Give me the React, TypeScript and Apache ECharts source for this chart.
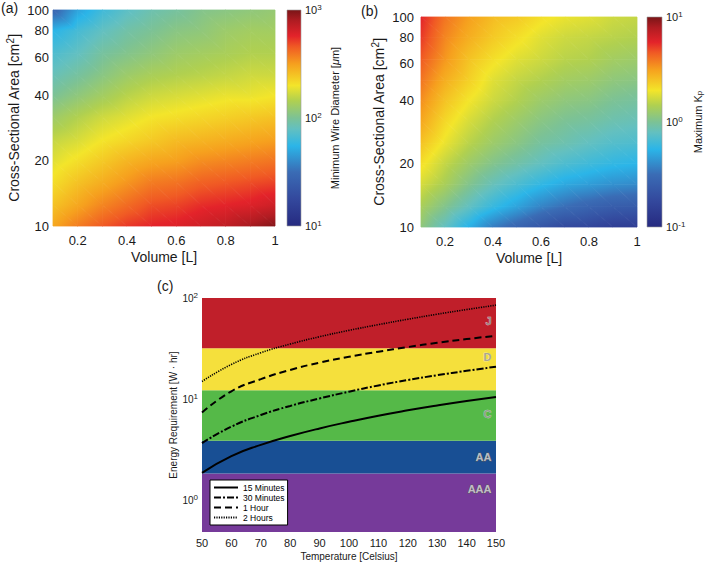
import React, { useEffect, useRef } from 'react';
import * as echarts from 'echarts';

// ---------------- data ----------------
const volumeL = [0.1, 0.2, 0.3, 0.4, 0.5, 0.6, 0.7, 0.8, 0.9, 1.0];
const areaCm2 = [100, 80, 63, 50, 40, 32, 25, 20, 16, 12.5, 10];
const volumeTicks = [0.2, 0.4, 0.6, 0.8, 1];
const areaTicks = [10, 20, 40, 60, 80, 100];

// (a) minimum wire diameter [um], rows follow areaCm2, columns follow volumeL
const wireDiameterUm = [
  [28, 48, 63, 76, 87, 95, 105, 110, 115, 120],
  [55, 66, 79, 91, 100, 110, 115, 126, 132, 132],
  [69, 79, 95, 105, 115, 126, 132, 138, 145, 145],
  [83, 95, 110, 126, 138, 145, 151, 158, 166, 166],
  [100, 115, 132, 151, 166, 174, 182, 191, 191, 200],
  [126, 145, 166, 182, 200, 209, 219, 229, 240, 251],
  [158, 174, 200, 219, 240, 263, 275, 288, 302, 316],
  [182, 209, 240, 275, 302, 316, 347, 363, 380, 398],
  [209, 251, 288, 331, 380, 398, 437, 457, 479, 501],
  [251, 302, 363, 417, 479, 501, 550, 575, 603, 661],
  [302, 380, 457, 525, 575, 603, 661, 724, 832, 955],
];
const wireRange = [10, 1000];
const wireTicks = [10, 100, 1000];

// (b) maximum Kp
const maxKp = [
  [5.75, 3.98, 3.16, 2.63, 2.4, 2.09, 1.91, 1.82, 1.66, 1.59],
  [5.25, 3.63, 2.88, 2.4, 2.09, 1.82, 1.66, 1.59, 1.51, 1.45],
  [4.57, 3.31, 2.51, 2.09, 1.82, 1.66, 1.51, 1.45, 1.32, 1.26],
  [3.98, 2.88, 2.29, 1.82, 1.59, 1.45, 1.32, 1.26, 1.15, 1.1],
  [3.47, 2.51, 2.0, 1.66, 1.45, 1.26, 1.15, 1.1, 1.0, 0.95],
  [3.02, 2.19, 1.74, 1.45, 1.26, 1.1, 1.0, 0.95, 0.87, 0.83],
  [2.51, 1.91, 1.51, 1.26, 1.1, 0.95, 0.87, 0.79, 0.72, 0.69],
  [2.09, 1.59, 1.26, 1.05, 0.91, 0.79, 0.69, 0.63, 0.58, 0.55],
  [1.74, 1.38, 1.05, 0.83, 0.69, 0.58, 0.5, 0.46, 0.42, 0.4],
  [1.38, 1.05, 0.79, 0.6, 0.48, 0.38, 0.32, 0.28, 0.25, 0.24],
  [1.15, 0.79, 0.53, 0.36, 0.28, 0.22, 0.18, 0.17, 0.15, 0.145],
];
const kpRange = [0.1, 10];
const kpTicks = [0.1, 1, 10];

// (c) energy requirement [W hr]
const temperatureC = [50, 60, 70, 80, 90, 100, 110, 120, 130, 140, 150];
const energy15min = [1.88, 2.75, 3.55, 4.34, 5.16, 6.0, 6.89, 7.78, 8.69, 9.62, 10.54];
const energy30min = [3.7, 5.37, 7.0, 8.6, 10.2, 11.9, 13.7, 15.5, 17.3, 19.1, 21];
const energy1h = [7.4, 12.0, 15.8, 19.5, 23, 26.3, 29.5, 32.8, 36.1, 39.3, 42.4];
const energy2h = [15, 22.1, 28.8, 35.1, 41.5, 47.9, 54.6, 61.7, 69.2, 76.9, 85];
const seriesNames = ['15 Minutes', '30 Minutes', '1 Hour', '2 Hours'];
const energyRange = [0.49, 100];
const energyTicks = [1, 10, 100];
const energyMinorTicks = [0.5, 0.6, 0.7, 0.8, 0.9, 2, 3, 4, 5, 6, 7, 8, 9, 20, 30, 40, 50, 60, 70, 80, 90];
const bandEdges = [0.49, 1.85, 3.9, 12.3, 32, 100];
const bandNames = ['AAA', 'AA', 'C', 'D', 'J'];
const bandLabelY = [1.29, 2.7, 7.1, 26, 59];

// ---------------- styles ----------------
const FONT = '"Liberation Sans", Arial, Helvetica, sans-serif';
const TXT = '#1a1a1a';
const bandColors = ['#763a9a', '#184f94', '#55b948', '#f5e03c', '#c01f2a'];
const cmapStops: [number, string][] = [
  [0.0, '#262a80'],
  [0.12, '#33479c'],
  [0.25, '#3a6cb5'],
  [0.37, '#2bb5e8'],
  [0.45, '#63c0c0'],
  [0.5, '#7cc295'],
  [0.58, '#b0d050'],
  [0.65, '#f3e52a'],
  [0.75, '#f6a01e'],
  [0.83, '#f05a24'],
  [0.88, '#e3232a'],
  [0.95, '#b01c22'],
  [1.0, '#7a1517'],
];

function hexToRgb(h: string) {
  const n = parseInt(h.slice(1), 16);
  return [(n >> 16) & 255, (n >> 8) & 255, n & 255];
}
function cmap(f: number) {
  const t = Math.max(0, Math.min(1, f));
  for (let i = 0; i < cmapStops.length - 1; i++) {
    const [f0, c0] = cmapStops[i];
    const [f1, c1] = cmapStops[i + 1];
    if (t >= f0 && t <= f1) {
      const u = (t - f0) / (f1 - f0 || 1);
      const a = hexToRgb(c0), b = hexToRgb(c1);
      const r = a.map((v, k) => Math.round(v + (b[k] - v) * u));
      return `rgb(${r[0]},${r[1]},${r[2]})`;
    }
  }
  return cmapStops[cmapStops.length - 1][1];
}

type P = { x: number; y: number; f: number };
function triFill(p1: P, p2: P, p3: P) {
  const d2x = p2.x - p1.x, d2y = p2.y - p1.y, d3x = p3.x - p1.x, d3y = p3.y - p1.y;
  const df2 = p2.f - p1.f, df3 = p3.f - p1.f;
  const det = d2x * d3y - d2y * d3x;
  const fmin = Math.min(p1.f, p2.f, p3.f), fmax = Math.max(p1.f, p2.f, p3.f);
  if (Math.abs(det) < 1e-9 || fmax - fmin < 1e-5) return cmap((fmin + fmax) / 2);
  const gx = (df2 * d3y - df3 * d2y) / det;
  const gy = (d2x * df3 - d3x * df2) / det;
  const g2 = gx * gx + gy * gy;
  if (g2 < 1e-14) return cmap((fmin + fmax) / 2);
  const sx = p1.x + ((fmin - p1.f) * gx) / g2, sy = p1.y + ((fmin - p1.f) * gy) / g2;
  const ex = p1.x + ((fmax - p1.f) * gx) / g2, ey = p1.y + ((fmax - p1.f) * gy) / g2;
  const stops: { offset: number; color: string }[] = [{ offset: 0, color: cmap(fmin) }];
  for (const [sf] of cmapStops) {
    if (sf > fmin && sf < fmax) stops.push({ offset: (sf - fmin) / (fmax - fmin), color: cmap(sf) });
  }
  stops.push({ offset: 1, color: cmap(fmax) });
  return { type: 'linear', x: sx, y: sy, x2: ex, y2: ey, global: true, colorStops: stops };
}

function fieldSeries(xi: number, grid: number[][], range: number[]) {
  const lmin = Math.log10(range[0]), lmax = Math.log10(range[1]);
  const nx = volumeL.length, ny = areaCm2.length;
  const data: number[][] = [];
  for (let r = 0; r < ny; r++) for (let c = 0; c < nx; c++) data.push([volumeL[c], areaCm2[r], grid[r][c]]);
  return {
    type: 'custom',
    xAxisIndex: xi,
    yAxisIndex: xi,
    silent: true,
    data,
    encode: { x: 0, y: 1 },
    renderItem: (params: any, api: any) => {
      const idx = params.dataIndex;
      const r = Math.floor(idx / nx), c = idx % nx;
      if (r >= ny - 1 || c >= nx - 1) return null;
      const corner = (cc: number, rr: number): P => {
        const p = api.coord([volumeL[cc], areaCm2[rr]]);
        return { x: p[0], y: p[1], f: (Math.log10(grid[rr][cc]) - lmin) / (lmax - lmin) };
      };
      const a = corner(c, r), b = corner(c + 1, r), d = corner(c + 1, r + 1), e = corner(c, r + 1);
      const tri = (p1: P, p2: P, p3: P) => ({
        type: 'polygon',
        shape: { points: [[p1.x, p1.y], [p2.x, p2.y], [p3.x, p3.y]] },
        style: { fill: triFill(p1, p2, p3), stroke: triFill(p1, p2, p3), lineWidth: 0.8 },
      });
      return { type: 'group', children: [tri(a, b, d), tri(a, d, e)] };
    },
  };
}

function colorbarSeries(idx: number, range: number[]) {
  return {
    type: 'custom',
    xAxisIndex: idx,
    yAxisIndex: idx,
    silent: true,
    data: [[0, range[0]]],
    renderItem: (_p: any, api: any) => {
      const lo = api.coord([0, range[0]]);
      const hi = api.coord([1, range[1]]);
      return {
        type: 'rect',
        shape: { x: lo[0], y: hi[1], width: hi[0] - lo[0], height: lo[1] - hi[1] },
        style: {
          fill: {
            type: 'linear', x: 0, y: 1, x2: 0, y2: 0,
            colorStops: cmapStops.map(([f]) => ({ offset: f, color: cmap(f) })),
          },
          stroke: '#9a9a9a',
          lineWidth: 0.6,
        },
      };
    },
  };
}

const supRich = { sup: { fontSize: 8, verticalAlign: 'top', lineHeight: 8 } };
const powLabel = (v: number) => `10{sup|${Math.round(Math.log10(v))}}`;

function plotXAxis(gi: number) {
  return {
    gridIndex: gi, type: 'value', min: 0.1, max: 1,
    axisLine: { show: false }, axisTick: { show: false }, splitLine: { show: false },
    axisLabel: { customValues: volumeTicks, fontSize: 13, color: TXT, margin: 8, formatter: (v: number) => String(+v.toFixed(1)) },
    name: 'Volume [L]', nameLocation: 'middle', nameGap: 24,
    nameTextStyle: { fontSize: 14, color: TXT },
  };
}
function plotYAxis(gi: number, margin: number) {
  return {
    gridIndex: gi, type: 'log', logBase: 10, min: 10, max: 100,
    axisLine: { show: false }, axisTick: { show: false }, splitLine: { show: false },
    axisLabel: { customValues: areaTicks, fontSize: 13, color: TXT, margin, formatter: (v: number) => String(Math.round(v)) },
    name: 'Cross-Sectional Area [cm{sup|2}]', nameLocation: 'middle', nameGap: 27, nameRotate: 90,
    nameTextStyle: { fontSize: 14, color: TXT, lineHeight: 18, rich: { sup: { fontSize: 10, verticalAlign: 'top', lineHeight: 10 } } },
  };
}
function cbarXAxis(gi: number) {
  return { gridIndex: gi, type: 'value', min: 0, max: 1, show: false };
}
function cbarYAxis(gi: number, range: number[], ticks: number[], name: string, rich: any, gap: number) {
  return {
    gridIndex: gi, type: 'log', logBase: 10, min: range[0], max: range[1], position: 'right',
    axisLine: { show: false }, axisTick: { show: false }, splitLine: { show: false },
    axisLabel: { customValues: ticks, fontSize: 11, color: TXT, margin: 4, lineHeight: 14, formatter: powLabel, rich: supRich },
    name, nameLocation: 'middle', nameGap: gap, nameRotate: 90,
    nameTextStyle: { fontSize: 11, color: TXT, rich },
  };
}

export default function App() {
  const ref = useRef<HTMLDivElement>(null);
  useEffect(() => {
    if (!ref.current) return;
    const chart = echarts.init(ref.current, null, { renderer: 'svg' });
    const lineData = (arr: number[]) => temperatureC.map((t, i) => [t, arr[i]]);
    const energies = [energy15min, energy30min, energy1h, energy2h];
    const lineTypes: any[] = ['solid', [7, 2, 2, 2], [7, 4], [1.2, 1.2]];
    const lineWidths = [2, 2, 2, 1.6];

    const option: any = {
      animation: false,
      backgroundColor: '#ffffff',
      textStyle: { fontFamily: FONT },
      grid: [
        { left: 53, top: 10, width: 222, height: 216 },
        { left: 287, top: 10, width: 14, height: 216 },
        { left: 421, top: 17, width: 216, height: 210 },
        { left: 647, top: 17, width: 15, height: 210 },
        { left: 202, top: 298, width: 294, height: 234 },
      ],
      xAxis: [
        plotXAxis(0),
        cbarXAxis(1),
        plotXAxis(2),
        cbarXAxis(3),
        {
          gridIndex: 4, type: 'value', min: 50, max: 150, interval: 10,
          axisLine: { show: false }, axisTick: { show: false }, splitLine: { show: false },
          axisLabel: { fontSize: 11, color: TXT, margin: 5 },
          name: 'Temperature [Celsius]', nameLocation: 'middle', nameGap: 19,
          nameTextStyle: { fontSize: 10, color: TXT },
        },
      ],
      yAxis: [
        plotYAxis(0, 4),
        cbarYAxis(1, wireRange, wireTicks, 'Minimum Wire Diameter [{i|μ}m]', { i: { fontStyle: 'italic', fontSize: 11 } }, 28),
        plotYAxis(2, 7),
        cbarYAxis(3, kpRange, kpTicks, 'Maximum K{sub|p}', { sub: { fontSize: 8, verticalAlign: 'bottom', lineHeight: 8 } }, 30),
        {
          gridIndex: 4, type: 'log', logBase: 10, min: energyRange[0], max: energyRange[1],
          axisLine: { show: false }, splitLine: { show: false },
          axisTick: { customValues: energyTicks, inside: true, length: 4, lineStyle: { color: '#555', width: 0.8 } },
          axisLabel: { customValues: energyTicks, fontSize: 10, color: TXT, margin: 4, lineHeight: 14, formatter: powLabel, rich: supRich },
          name: 'Energy Requirement [W · hr]', nameLocation: 'middle', nameGap: 22, nameRotate: 90,
          nameTextStyle: { fontSize: 10, color: TXT },
        },
        {
          gridIndex: 4, type: 'log', logBase: 10, min: energyRange[0], max: energyRange[1], position: 'left',
          axisLine: { show: false }, splitLine: { show: false }, axisLabel: { show: false },
          axisTick: { customValues: energyMinorTicks, inside: true, length: 2, lineStyle: { color: '#555', width: 0.6 } },
        },
      ],
      legend: {
        data: seriesNames,
        left: 210, top: 480, orient: 'vertical',
        backgroundColor: '#ffffff', borderColor: '#000', borderWidth: 1,
        padding: [3, 3, 3, 3], itemGap: 1, itemWidth: 24, itemHeight: 9,
        itemStyle: { opacity: 0, color: 'rgba(0,0,0,0)', borderWidth: 0 },
        textStyle: { fontSize: 8.5, color: '#000', fontFamily: FONT },
      },
      series: [
        fieldSeries(0, wireDiameterUm, wireRange),
        colorbarSeries(1, wireRange),
        fieldSeries(2, maxKp, kpRange),
        colorbarSeries(3, kpRange),
        ...energies.map((arr, k) => ({
          type: 'line',
          name: seriesNames[k],
          xAxisIndex: 4, yAxisIndex: 4,
          data: lineData(arr),
          smooth: 0.5,
          symbol: 'none',
          z: 3,
          lineStyle: { color: '#000', width: lineWidths[k], type: lineTypes[k] },
          itemStyle: { color: 'rgba(0,0,0,0)' },
          markArea: k === 0 ? {
            silent: true,
            data: bandNames.map((_, b) => [
              { yAxis: bandEdges[b], itemStyle: { color: bandColors[b], opacity: 1 } },
              { yAxis: bandEdges[b + 1] },
            ]),
          } : undefined,
        })),
        {
          type: 'scatter',
          xAxisIndex: 4, yAxisIndex: 4,
          symbolSize: 1,
          silent: true,
          z: 4,
          itemStyle: { color: 'rgba(0,0,0,0)' },
          data: bandNames.map((n, b) => ({
            name: n,
            value: [150, bandLabelY[b]],
            label: b >= 2
              ? { color: '#969696', textBorderColor: '#f0f0f0', textBorderWidth: 0.5 }
              : { color: '#dcdcdc', textBorderColor: '#5a5a5a', textBorderWidth: 1 },
          })),
          label: {
            show: true, position: 'left', distance: 4, formatter: '{b}',
            fontSize: 11, fontWeight: 'bold', fontFamily: FONT,
          },
        },
      ],
      graphic: [
        { type: 'text', left: 1, top: 1, style: { text: '(a)', fontSize: 14, fill: TXT, fontFamily: FONT } },
        { type: 'text', left: 361, top: 4, style: { text: '(b)', fontSize: 14, fill: TXT, fontFamily: FONT } },
        { type: 'text', left: 157, top: 279, style: { text: '(c)', fontSize: 14, fill: TXT, fontFamily: FONT } },
      ],
    };
    chart.setOption(option);
    return () => chart.dispose();
  }, []);
  return <div ref={ref} style={{ position: 'fixed', left: 0, top: 0, width: 709, height: 562 }} />;
}
